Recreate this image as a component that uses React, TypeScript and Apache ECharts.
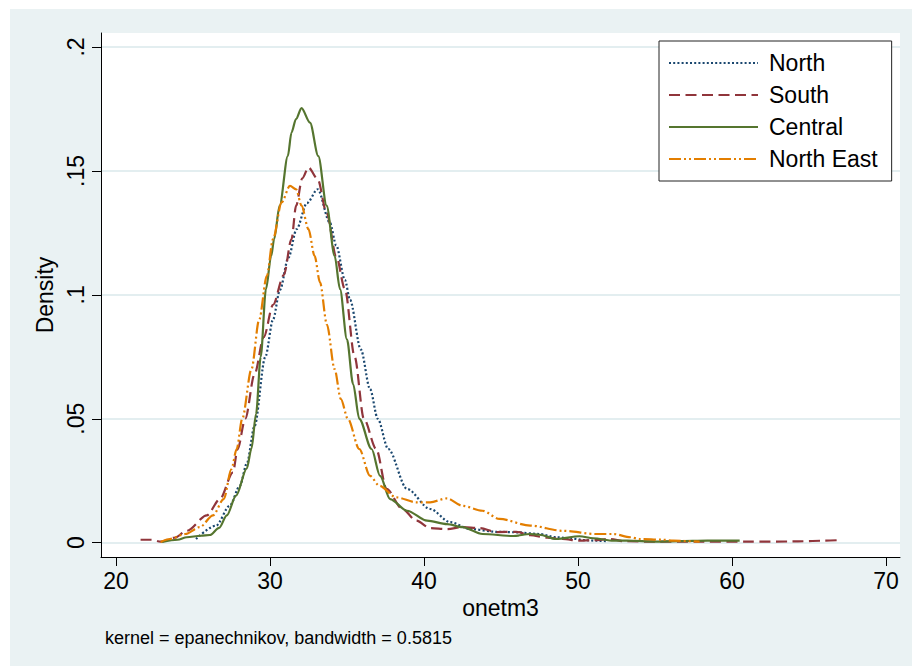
import React, { useEffect, useRef } from "react";
import * as echarts from "echarts";

const seriesNames = ["North", "South", "Central", "North East"];

const northX = [25.2, 26.5, 27.4, 28.05, 28.5, 29.0, 29.7, 30.2, 30.65, 31.2, 31.73, 32.4, 33.1, 33.9, 34.3, 34.87, 35.2, 35.9, 36.5, 37.0, 37.68, 38.9, 40.4, 41.7, 43.0, 44.7, 46.0, 47.5, 48.6, 49.5, 50.5, 51.2, 51.9];
const northY = [0.0015, 0.0069, 0.015, 0.023, 0.032, 0.047, 0.075, 0.09, 0.102, 0.115, 0.1265, 0.137, 0.1426, 0.129, 0.12, 0.106, 0.098, 0.078, 0.062, 0.05, 0.0378, 0.0217, 0.0136, 0.0083, 0.0055, 0.0044, 0.0042, 0.0035, 0.0022, 0.0018, 0.001, 0.0008, 0.0006];

const southX = [21.6, 22.3, 22.9, 23.8, 24.6, 25.9, 26.75, 27.6, 27.9, 28.4, 29.0, 29.6, 30.2, 30.9, 31.4, 31.7, 32.1, 32.5, 33.1, 33.68, 34.3, 34.87, 35.5, 36.1, 36.9, 37.57, 38.6, 39.5, 40.4, 41.5, 42.5, 43.6, 44.7, 46.0, 46.9, 48.0, 49.0, 50.1, 51.0, 52.1, 53.0, 55.0, 58.0, 61.0, 64.0, 66.0, 66.8];
const southY = [0.0012, 0.0012, 0.0004, 0.002, 0.0048, 0.011, 0.0176, 0.0284, 0.0378, 0.05, 0.068, 0.083, 0.096, 0.108, 0.1225, 0.136, 0.147, 0.1514, 0.1467, 0.133, 0.1157, 0.1023, 0.075, 0.05, 0.0378, 0.0217, 0.0136, 0.0089, 0.0059, 0.0055, 0.0063, 0.0059, 0.0043, 0.0044, 0.003, 0.002, 0.0015, 0.0008, 0.001, 0.0015, 0.0006, 0.0004, 0.0004, 0.0004, 0.0005, 0.0008, 0.001];

const centralX = [23.0, 24.0, 24.6, 25.5, 26.1, 26.7, 27.2, 27.8, 28.5, 28.8, 29.1, 29.4, 29.74, 30.08, 30.27, 30.63, 31.16, 31.4, 31.69, 32.05, 32.6, 33.14, 33.68, 34.2, 34.55, 35.0, 35.4, 35.8, 36.6, 37.15, 37.8, 38.9, 40.2, 41.5, 42.5, 43.8, 45.8, 46.9, 47.5, 48.6, 50.1, 51.0, 52.3, 53.2, 55.1, 56.5, 58.4, 60.5];
const centralY = [0.0003, 0.0012, 0.0022, 0.0028, 0.0031, 0.006, 0.011, 0.019, 0.03, 0.038, 0.052, 0.075, 0.1023, 0.1157, 0.1225, 0.136, 0.156, 0.1655, 0.1709, 0.1753, 0.1695, 0.156, 0.136, 0.1157, 0.1023, 0.082, 0.064, 0.05, 0.0378, 0.027, 0.0176, 0.0129, 0.0089, 0.0075, 0.0063, 0.0035, 0.0027, 0.0035, 0.0032, 0.0015, 0.0026, 0.0018, 0.0008, 0.0008, 0.0004, 0.0006, 0.0008, 0.0008];

const northEastX = [22.9, 23.5, 24.5, 25.45, 26.3, 27.0, 27.5, 27.84, 28.2, 28.8, 29.3, 29.8, 30.2, 30.76, 31.3, 31.7, 32.05, 32.5, 32.9, 33.25, 33.7, 34.2, 34.6, 35.06, 35.8, 36.5, 37.1, 38.2, 39.5, 40.4, 41.5, 42.5, 43.8, 44.9, 46.9, 49.0, 51.2, 52.3, 53.4, 54.0, 55.5, 56.2, 57.9];
const northEastY = [0.0003, 0.0015, 0.0035, 0.0063, 0.011, 0.0176, 0.0297, 0.0378, 0.05, 0.07, 0.09, 0.1077, 0.1225, 0.1373, 0.144, 0.1426, 0.136, 0.1265, 0.1157, 0.105, 0.088, 0.07, 0.058, 0.05, 0.0378, 0.027, 0.023, 0.0183, 0.0163, 0.0163, 0.0179, 0.0149, 0.0129, 0.0096, 0.0069, 0.0048, 0.0035, 0.0035, 0.0022, 0.0015, 0.0012, 0.0008, 0.0004];

const xTicks = [20, 30, 40, 50, 60, 70];
const yTicks = [0, 0.05, 0.1, 0.15, 0.2];
const yTickLabels = ["0", ".05", ".1", ".15", ".2"];

const xTitle = "onetm3";
const yTitle = "Density";
const noteText = "kernel = epanechnikov, bandwidth = 0.5815";

const FONT = "'Liberation Sans', Arial, sans-serif";

function zip(xs: number[], ys: number[]) {
  return xs.map((x, i) => [x, ys[i]]);
}

export default function App() {
  const ref = useRef<HTMLDivElement>(null);

  useEffect(() => {
    if (!ref.current) return;
    const chart = echarts.init(ref.current, null, { renderer: "svg" });
    const colors = ["#1A476F", "#90353B", "#55752F", "#E37E00"];
    const dashes: any[] = [[2, 2.2], [11, 5.5], "solid", [12, 3, 2, 3, 2, 3]];
    const datas = [zip(northX, northY), zip(southX, southY), zip(centralX, centralY), zip(northEastX, northEastY)];

    chart.setOption({
      animation: false,
      backgroundColor: "#EAF2F3",
      textStyle: { fontFamily: FONT },
      grid: {
        left: 91,
        top: 24,
        right: 12,
        bottom: 109,
        show: true,
        backgroundColor: "#ffffff",
        borderWidth: 0,
      },
      legend: {
        orient: "vertical",
        left: 649,
        top: 32,
        padding: [9, 14, 9, 9],
        backgroundColor: "#ffffff",
        borderColor: "#222222",
        borderWidth: 1,
        itemWidth: 89,
        itemHeight: 14,
        itemGap: 6,
        data: seriesNames,
        itemStyle: { opacity: 0 },
        textStyle: {
          fontSize: 23,
          color: "#000000",
          fontFamily: FONT,
          lineHeight: 26,
          padding: [0, 0, 0, 6],
        },
      },
      xAxis: {
        type: "value",
        min: 19.03,
        max: 70.91,
        name: xTitle,
        nameLocation: "middle",
        nameGap: 39,
        nameTextStyle: { fontSize: 23, color: "#000000", fontFamily: FONT },
        axisLine: { show: true, onZero: false, lineStyle: { color: "#000000", width: 1 } },
        axisTick: { show: true, length: 9, customValues: xTicks, lineStyle: { color: "#000000", width: 1 } },
        axisLabel: { customValues: xTicks, fontSize: 23, color: "#000000", margin: 12, fontFamily: FONT },
        splitLine: { show: false },
      },
      yAxis: {
        type: "value",
        min: -0.00577,
        max: 0.20565,
        name: yTitle,
        nameLocation: "middle",
        nameGap: 42,
        nameRotate: 90,
        nameTextStyle: { fontSize: 23, color: "#000000", fontFamily: FONT },
        axisLine: { show: true, onZero: false, lineStyle: { color: "#000000", width: 1 } },
        axisTick: { show: true, length: 9, customValues: yTicks, lineStyle: { color: "#000000", width: 1 } },
        axisLabel: {
          customValues: yTicks,
          rotate: 90,
          fontSize: 23,
          color: "#000000",
          margin: 14,
          fontFamily: FONT,
          formatter: (v: number) => {
            const i = yTicks.findIndex((t) => Math.abs(t - v) < 1e-9);
            return i >= 0 ? yTickLabels[i] : "";
          },
        },
        splitLine: { show: true, lineStyle: { color: "#E3EEF0", width: 2 } },
      },
      graphic: [
        {
          type: "text",
          left: 95,
          top: 620,
          style: { text: noteText, font: `18px ${FONT}`, fill: "#000000" },
        },
      ],
      series: seriesNames.map((name, i) => ({
        name,
        type: "line",
        data: datas[i],
        symbol: "none",
        smooth: 0.3,
        smoothMonotone: "x",
        lineStyle: { color: colors[i], width: 2.2, type: dashes[i] },
        itemStyle: { color: colors[i] },
      })),
    });

    return () => {
      chart.dispose();
    };
  }, []);

  return (
    <div
      ref={ref}
      style={{ position: "fixed", left: 10, top: 9, width: 902, height: 657 }}
    />
  );
}
